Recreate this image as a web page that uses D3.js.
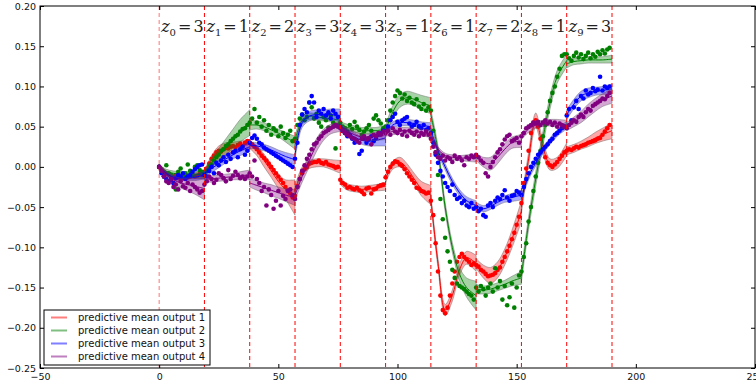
<!DOCTYPE html>
<html>
<head>
<meta charset="utf-8">
<script src="https://cdn.jsdelivr.net/npm/d3@7"></script>
<style>
  body { margin: 0; background: #fff; }
  svg { display: block; }
  text { font-family: "DejaVu Sans", sans-serif; }
</style>
</head>
<body>
<svg id="chart" width="756" height="383"></svg>
<script>
// segment boundaries (x) and the z label of each segment
var boundaries = [0, 19, 38, 57, 76, 95, 114, 133, 152, 171, 190],
    zValues = [3, 1, 2, 3, 3, 1, 1, 2, 1, 3];

// x offsets inside a segment where the predictive mean / band is sampled
var meanOffsets = [0, 3, 6, 9, 12, 15, 19];

var xTicks = [-50, 0, 50, 100, 150, 200, 250],
    yTicks = [-0.25, -0.20, -0.15, -0.10, -0.05, 0.00, 0.05, 0.10, 0.15, 0.20];

var seriesNames = ['predictive mean output 1', 'predictive mean output 2',
                   'predictive mean output 3', 'predictive mean output 4'];

// all values below are in thousandths (-12 means -0.012)

// ---- output 1 (red)
var redMean = [
  [0, -8, -12, -13, -12, -11, -9],
  [-8, 8, 18, 22, 24, 26, 28],
  [28, 20, 8, -5, -18, -28, -38],
  [-30, -5, 3, 5, 5, 3, 0],
  [-18, -25, -27, -28, -27, -26, -24],
  [-15, 2, 6, -2, -15, -27, -35],
  [-40, -120, -178, -160, -128, -113, -120],
  [-120, -130, -135, -128, -112, -90, -55],
  [-50, 10, 58, 25, 3, 5, 22],
  [20, 23, 27, 31, 36, 40, 45]
];
var redBand = [
  [3, 3, 3, 3, 3, 4, 5], [4, 6, 8, 8, 7, 6, 6], [5, 6, 8, 8, 9, 12, 22],
  [6, 5, 5, 5, 5, 6, 8], [4, 4, 4, 4, 4, 4, 5], [5, 5, 6, 6, 7, 9, 12],
  [6, 6, 7, 7, 7, 8, 10], [6, 8, 10, 10, 10, 11, 13], [8, 8, 9, 8, 7, 7, 8],
  [5, 5, 5, 6, 7, 8, 10]
];
var redDots = [
  [0, -3, -6, -8, -9, -11, -12, -10, -13, -12, -14, -11, -13, -12, -10, -12, -11, -9, -10],
  [-6, -2, 4, 10, 14, 18, 20, 19, 22, 24, 23, 25, 26, 24, 27, 29, 26, 30, 32],
  [30, 28, 25, 22, 18, 14, 11, 8, 4, 0, -4, -8, -12, -16, -20, -25, -29, -33, -38],
  [-36, -24, -15, -8, -3, 0, 4, 5, 6, 6, 8, 5, 4, 6, 3, 2, 1, -1, 0],
  [-16, -20, -22, -26, -25, -27, -28, -26, -29, -31, -34, -27, -26, -33, -28, -27, -24, -23, -22],
  [-13, -6, 0, 4, 7, 6, 3, 1, -3, -8, -12, -16, -20, -26, -27, -30, -31, -33, -32],
  [-42, -60, -95, -130, -160, -178, -182, -175, -160, -145, -130, -118, -112, -108, -112, -115, -118, -122, -120],
  [-122, -124, -128, -130, -133, -136, -135, -134, -132, -128, -125, -118, -112, -105, -98, -90, -82, -72, -62],
  [-45, -20, -2, 20, 42, 55, 58, 50, 35, 22, 12, 5, 2, 0, 3, 6, 10, 14, 18],
  [20, 22, 21, 23, 25, 24, 26, 27, 28, 30, 31, 32, 33, 35, 36, 40, 44, 48, 52]
];

// ---- output 2 (green)
var greenMean = [
  [0, -6, -8, -9, -9, -9, -10],
  [-10, 5, 15, 25, 35, 45, 55],
  [52, 52, 50, 46, 42, 37, 30],
  [32, 58, 63, 62, 61, 60, 58],
  [52, 49, 47, 45, 45, 45, 47],
  [45, 68, 82, 86, 84, 80, 76],
  [65, 20, -50, -100, -133, -150, -160],
  [-152, -153, -152, -149, -146, -142, -138],
  [-135, -70, -15, 35, 80, 112, 132],
  [128, 131, 132, 133, 133, 133, 134]
];
var greenBand = [
  [3, 3, 3, 3, 3, 4, 5], [4, 6, 8, 10, 12, 14, 16], [6, 5, 5, 5, 5, 6, 8],
  [6, 5, 4, 4, 4, 4, 5], [4, 4, 4, 4, 4, 4, 5], [6, 8, 8, 8, 8, 9, 10],
  [6, 6, 6, 6, 8, 12, 18], [6, 5, 5, 5, 5, 6, 8], [8, 8, 9, 9, 8, 8, 8],
  [5, 4, 4, 4, 4, 4, 5]
];
var greenDots = [
  [0, -5, -12, 2, -8, -10, -20, -28, -6, -2, -12, -8, 3, -5, -10, 0, 2, -4, -6],
  [-10, -5, 0, 3, 8, 12, 15, 20, 22, 26, 28, 32, 35, 38, 40, 44, 47, 48, 52],
  [55, 60, 72, 55, 62, 50, 58, 45, 52, 40, 48, 45, 38, 50, 42, 36, 40, 45, 32],
  [35, 52, 60, 65, 58, 62, 80, 74, 60, 66, 55, 50, 62, 58, 49, 64, 55, 23, 52],
  [55, 50, 48, 44, 52, 47, 56, 50, 46, 40, 44, 48, 52, 45, 60, 64, 58, 54, 48],
  [50, 58, 70, 80, 88, 95, 92, 85, 90, 82, 86, 80, 78, 84, 75, 72, 78, 70, 74],
  [70, 45, 18, -10, -40, -65, -88, -105, -118, -128, -138, -145, -148, -150, -152, -155, -158, -160, -165],
  [-150, -155, -148, -152, -160, -150, -145, -155, -126, -150, -142, -165, -148, -172, -162, -145, -175, -150, -135],
  [-130, -112, -95, -68, -50, -30, -12, 5, 20, 38, 52, 68, 82, 92, 100, 112, 122, 138, 140],
  [140, 135, 132, 138, 142, 136, 140, 134, 138, 142, 135, 140, 137, 143, 140, 145, 141, 146, 148]
];

// ---- output 3 (blue)
var blueMean = [
  [0, -8, -13, -14, -14, -13, -10],
  [-8, -2, 4, 10, 15, 20, 25],
  [27, 26, 24, 21, 17, 13, 9],
  [15, 55, 63, 65, 65, 65, 64],
  [48, 42, 37, 33, 32, 33, 36],
  [42, 52, 55, 55, 54, 52, 50],
  [45, 20, 0, -18, -32, -42, -48],
  [-48, -52, -49, -44, -40, -38, -35],
  [-38, -12, 5, 20, 32, 42, 52],
  [65, 78, 88, 92, 94, 95, 97]
];
var blueBand = [
  [3, 3, 3, 3, 3, 4, 5], [4, 5, 5, 5, 5, 6, 6], [4, 4, 4, 4, 4, 5, 6],
  [6, 6, 6, 6, 6, 7, 8], [4, 5, 5, 5, 6, 7, 10], [4, 4, 4, 4, 4, 4, 5],
  [4, 4, 4, 4, 4, 5, 6], [4, 4, 4, 4, 4, 5, 6], [4, 4, 4, 4, 4, 4, 5],
  [6, 6, 6, 6, 5, 5, 6]
];
var blueDots = [
  [0, -8, -12, -15, -18, -16, -20, -14, -10, -12, -8, -15, -12, -10, -6, -3, 0, 2, 3],
  [-10, -12, -5, 0, -8, 5, 2, 8, 12, 6, 15, 10, 18, 20, 12, 22, 25, 15, 20],
  [30, 36, 39, 35, 30, 28, 24, 22, 20, 18, 16, 14, 12, 10, 8, 6, 4, 2, 0],
  [10, 30, 52, 65, 72, 68, 80, 88, 80, 62, 70, 66, 72, 64, 68, 60, 70, 66, 62],
  [50, 45, 42, 38, 40, 35, 30, 32, 16, 20, 35, 30, 34, 38, 32, 36, 40, 42, 45],
  [45, 50, 58, 62, 66, 56, 52, 58, 60, 62, 54, 50, 52, 56, 50, 48, 52, 46, 48],
  [42, 30, 15, 5, -5, -12, -20, -25, -30, -22, -35, -40, -38, -45, -42, -48, -50, -45, -52],
  [-50, -55, -52, -60, -62, -48, -45, -50, -42, -38, -40, -35, -29, -38, -42, -36, -35, -30, -32],
  [-35, -25, -15, -8, 0, 5, 10, 15, 18, 22, 25, 28, 32, 35, 40, 42, 45, 48, 50],
  [64, 72, 58, 74, 82, 72, 88, 85, 95, 90, 92, 98, 94, 96, 112, 95, 100, 98, 100]
];

// ---- output 4 (purple)
var purpleMean = [
  [0, -10, -16, -20, -22, -24, -27],
  [-15, -15, -14, -13, -12, -11, -10],
  [-20, -23, -26, -29, -32, -35, -38],
  [-35, -12, 8, 27, 40, 47, 50],
  [48, 44, 40, 37, 37, 38, 40],
  [42, 44, 45, 45, 44, 43, 41],
  [38, 22, 14, 12, 11, 11, 11],
  [12, 6, 4, 12, 22, 30, 32],
  [38, 47, 52, 54, 55, 54, 52],
  [50, 56, 62, 70, 77, 83, 88]
];
var purpleBand = [
  [3, 4, 5, 6, 8, 10, 14], [4, 4, 4, 4, 4, 5, 6], [5, 6, 6, 7, 7, 8, 10],
  [6, 7, 8, 8, 7, 6, 6], [4, 4, 4, 4, 4, 5, 6], [4, 4, 4, 4, 4, 4, 5],
  [3, 3, 3, 3, 3, 4, 5], [4, 6, 8, 8, 7, 7, 8], [4, 4, 4, 4, 4, 5, 6],
  [5, 6, 7, 8, 8, 8, 9]
];
var purpleDots = [
  [0, -5, -12, -18, -20, -15, -25, -22, -28, -18, -24, -26, -20, -30, -22, -25, -28, -32, -30],
  [-22, -18, -12, -15, -20, -16, -8, -10, -14, -18, -4, -15, -11, -6, -10, -14, -12, -15, -12],
  [-8, -12, 8, -15, -20, -30, -25, -48, -28, -35, -52, -42, -30, -48, -36, -40, -30, -28, -35],
  [-40, -25, -15, -5, 2, 10, 15, 22, 28, 30, 35, 38, 42, 44, 46, 48, 50, 52, 50],
  [48, 45, 42, 40, 38, 36, 35, 32, 30, 35, 38, 34, 36, 28, 40, 38, 42, 40, 44],
  [42, 45, 40, 48, 44, 42, 46, 40, 44, 38, 45, 42, 40, 44, 38, 42, 40, 44, 40],
  [35, 25, 18, 12, 10, 14, 8, 12, 10, 6, 14, 10, 12, 8, 2, 12, 10, 14, 12],
  [15, 12, 8, 5, -8, -12, 0, 6, 12, 18, 22, 28, 34, 38, 40, 32, 34, 36, 30],
  [38, 42, 48, 50, 52, 55, 54, 56, 52, 55, 58, 54, 56, 52, 55, 50, 54, 52, 50],
  [48, 52, 55, 58, 56, 62, 65, 62, 68, 72, 70, 76, 78, 80, 82, 85, 84, 88, 92]
];

var series = [
  {name: seriesNames[0], color: '#ff0000', mean: redMean, band: redBand, dots: redDots},
  {name: seriesNames[1], color: '#008000', mean: greenMean, band: greenBand, dots: greenDots},
  {name: seriesNames[2], color: '#0000ff', mean: blueMean, band: blueBand, dots: blueDots},
  {name: seriesNames[3], color: '#800080', mean: purpleMean, band: purpleBand, dots: purpleDots}
];

// plot box in pixels (window.top is taken, hence the prefix)
var plotLeft = 40, plotRight = 755, plotTop = 6, plotBottom = 368;

var svg = d3.select('#chart');

var x = d3.scaleLinear().domain([-50, 250]).range([plotLeft, plotRight]),
    y = d3.scaleLinear().domain([-0.25, 0.20]).range([plotBottom, plotTop]);

svg.append('defs').append('clipPath').attr('id', 'plotClip')
  .append('rect')
    .attr('x', plotLeft).attr('y', plotTop)
    .attr('width', plotRight - plotLeft).attr('height', plotBottom - plotTop);

var plot = svg.append('g').attr('clip-path', 'url(#plotClip)');

// turn a segment's samples into points
function meanPoints(s, k) {
  return meanOffsets.map(function(o, i) {
    return {x: boundaries[k] + o, m: s.mean[k][i] / 1000, h: s.band[k][i] / 1000};
  });
}

var area = d3.area()
    .x(function(d) { return x(d.x); })
    .y0(function(d) { return y(d.m - d.h); })
    .y1(function(d) { return y(d.m + d.h); })
    .curve(d3.curveCatmullRom);

var line = d3.line()
    .x(function(d) { return x(d.x); })
    .y(function(d) { return y(d.m); })
    .curve(d3.curveCatmullRom);

series.forEach(function(s) {
  var g = plot.append('g');
  d3.range(10).forEach(function(k) {
    var pts = meanPoints(s, k);
    g.append('path')
      .attr('d', area(pts))
      .style('fill', s.color)
      .style('fill-opacity', 0.35)
      .style('stroke', '#555')
      .style('stroke-opacity', 0.5)
      .style('stroke-width', 0.8);
    g.append('path')
      .attr('d', line(pts))
      .style('fill', 'none')
      .style('stroke', s.color)
      .style('stroke-width', 1);
  });
  var dots = [];
  s.dots.forEach(function(seg, k) {
    seg.forEach(function(v, j) { dots.push({x: boundaries[k] + j, v: v / 1000}); });
  });
  g.selectAll('circle')
    .data(dots)
    .enter()
      .append('circle')
        .attr('cx', function(d) { return x(d.x); })
        .attr('cy', function(d) { return y(d.v); })
        .attr('r', 2.3)
        .style('fill', s.color);
});

// segment boundaries
svg.selectAll('line.seg')
  .data(boundaries)
  .enter()
    .append('line')
      .attr('class', 'seg')
      .attr('x1', function(d) { return x(d); })
      .attr('x2', function(d) { return x(d); })
      .attr('y1', plotTop)
      .attr('y2', plotBottom)
      .style('stroke', '#ff0000')
      .style('stroke-opacity', function(d, i) { return i === 0 ? 0.55 : 1; })
      .style('stroke-width', 1)
      .style('stroke-dasharray', '4,3');

// z labels
var zl = svg.selectAll('text.z')
  .data(zValues)
  .enter()
    .append('text')
      .attr('class', 'z')
      .attr('x', function(d, i) { return x(boundaries[i]) + 2; })
      .attr('y', 32)
      .style('font-family', '"DejaVu Serif", serif')
      .style('font-size', '16px')
      .style('fill', '#222');
zl.append('tspan').style('font-style', 'italic').text('z');
zl.append('tspan').attr('dy', 4).style('font-size', '10px').text(function(d, i) { return i; });
zl.append('tspan').attr('dy', -4).attr('dx', 2).text('=');
zl.append('tspan').attr('dx', 2).text(function(d) { return d; });

// axes
var fmtY = d3.format('.2f'),
    fmtX = d3.format('d');

svg.append('g')
  .attr('transform', 'translate(0,' + plotBottom + ')')
  .call(d3.axisBottom(x).tickValues(xTicks).tickFormat(fmtX).tickSizeInner(-4).tickSizeOuter(0).tickPadding(5));
svg.append('g')
  .attr('transform', 'translate(0,' + plotTop + ')')
  .call(d3.axisTop(x).tickValues(xTicks).tickFormat('').tickSizeInner(-4).tickSizeOuter(0));
svg.append('g')
  .attr('transform', 'translate(' + plotLeft + ',0)')
  .call(d3.axisLeft(y).tickValues(yTicks).tickFormat(fmtY).tickSizeInner(-4).tickSizeOuter(0).tickPadding(4));
svg.append('g')
  .attr('transform', 'translate(' + plotRight + ',0)')
  .call(d3.axisRight(y).tickValues(yTicks).tickFormat('').tickSizeInner(-4).tickSizeOuter(0));

svg.selectAll('.domain').remove();
svg.selectAll('.tick text').style('font-size', '9.5px').style('fill', '#111');
svg.selectAll('.tick line').style('stroke', '#000');

svg.append('rect')
  .attr('x', plotLeft).attr('y', plotTop)
  .attr('width', plotRight - plotLeft).attr('height', plotBottom - plotTop)
  .style('fill', 'none')
  .style('stroke', '#000')
  .style('stroke-width', 1);

// legend
var legend = svg.append('g').attr('transform', 'translate(44,310)');
legend.append('rect')
  .attr('width', 166).attr('height', 55)
  .style('fill', '#fff')
  .style('stroke', '#000')
  .style('stroke-width', 1);
var item = legend.selectAll('g.item')
  .data(series)
  .enter()
    .append('g')
      .attr('class', 'item')
      .attr('transform', function(d, i) { return 'translate(0,' + (7.5 + i * 13) + ')'; });
item.append('line')
  .attr('x1', 7).attr('x2', 23)
  .style('stroke', function(d) { return d.color; })
  .style('stroke-opacity', 0.5)
  .style('stroke-width', 2);
item.append('text')
  .attr('x', 34)
  .attr('dy', '0.35em')
  .style('font-size', '10px')
  .style('fill', '#111')
  .text(function(d) { return d.name; });
</script>
</body>
</html>
